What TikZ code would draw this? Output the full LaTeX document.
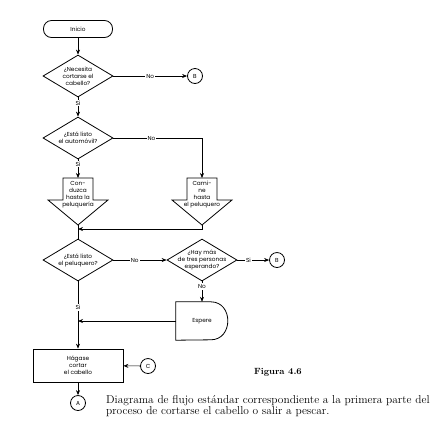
\documentclass[tikz,border=0pt]{standalone}
\usepackage{fontspec}
\newfontfamily\chartfont{Poppins}
\usetikzlibrary{arrows.meta,positioning,shapes.geometric}

\begin{document}
\begin{tikzpicture}[x=1pt, y=-1pt,
    lbl/.style={font=\chartfont\fontsize{5.8}{7}\selectfont, align=center, inner sep=1pt},
    term/.style={lbl, draw, line width=0.8pt, rounded corners=8pt,
                 minimum width=69pt, minimum height=17pt},
    dec/.style={draw, line width=0.8pt, diamond, aspect=1.65,
                minimum width=70pt, minimum height=42pt, inner sep=0pt},
    proc/.style={lbl, draw, line width=0.8pt, minimum width=90pt, minimum height=33pt},
    conn/.style={lbl, draw, line width=0.8pt, circle, minimum size=15pt, inner sep=0pt},
    tag/.style={lbl, fill=white},
    arr/.style={-{Stealth[length=5pt,width=4pt]}, line width=0.6pt},
    link/.style={line width=0.6pt},
    blockdown/.pic={
      \draw[line width=0.8pt] (-15,0) -- (-15,22) -- (-30,22) -- (0,47)
        -- (30,22) -- (15,22) -- (15,0) -- cycle;
      \node[lbl, inner sep=0pt] (-text) at (0,16.5) {#1};
      \coordinate (-top) at (0,0);
      \coordinate (-tip) at (0,47);
    }
  ]
  \useasboundingbox (0,0) rectangle (443,424);

  % main column
  \node[term] (start) at (78,29) {Inicio};
  \node[dec, label={[lbl]center:{¿Necesita\\cortarse el\\cabello?}}] (haircut) at (78,76) {};
  \node[conn] (b1) at (195,76) {B};
  \node[dec, label={[lbl]center:{¿Está listo\\el automóvil?}}] (car) at (78,138) {};
  \pic (drive) at (78,178) {blockdown={Con-\\duzca\\hasta la\\peluquería}};
  \pic (walk) at (202,178) {blockdown={Cami-\\ne\\hasta\\el peluquero}};
  \coordinate (turn) at (202,229);
  \node[dec, label={[lbl]center:{¿Está listo\\el peluquero?}}] (barber) at (78,260) {};
  \node[dec, label={[lbl]center:{¿Hay más\\de tres personas\\esperando?}}] (queue) at (202,260) {};
  \node[conn] (b2) at (277,260) {B};
  \node[lbl, minimum width=52pt, minimum height=38pt] (wait) at (202,321) {Espere};
  \draw[line width=0.8pt] (wait.north west) -- ++(35,0)
    .. controls +(22.7,0) and +(22.7,0) .. ++(0,38) -- (wait.south west) -- cycle;
  \node[proc] (cut) at (78,365.5) {Hágase\\cortar\\el cabello};
  \node[conn] (c) at (148,366) {C};
  \node[conn] (a) at (78,403) {A};

  % caption
  \node[font=\bfseries\fontsize{9}{10}\selectfont] (fig) at (278,372) {Figura 4.6};
  \node[font=\fontsize{11.4}{11.5}\selectfont, align=left, anchor=north west, inner sep=0pt]
    (cap) at (106,395) {Diagrama de flujo estándar correspondiente a la primera parte del\\
    proceso de cortarse el cabello o salir a pescar.};

  % connectors
  \draw[arr] (start) -- (haircut);
  \draw[arr] (haircut) -- node[tag]{No} (b1);
  \draw[arr] (haircut) -- node[tag, pos=0.3]{Si} (car);
  \draw[arr] (car.east) -- node[tag, pos=0.43]{No} (car.east -| walk-top) -- (walk-top);
  \draw[arr] (car) -- node[tag, pos=0.25]{Si} (drive-top);
  \draw[link] (drive-tip) -- (barber);
  \draw[arr] (walk-tip) -- (turn) -- (turn -| drive-tip);
  \draw[arr] (barber) -- node[tag, pos=0.4]{No} (queue);
  \draw[arr] (queue) -- node[tag, pos=0.35]{Si} (b2);
  \draw[arr] (queue) -- node[tag, pos=0.25]{No} (wait);
  \draw[arr] (barber) -- node[tag, pos=0.39]{Si} (cut);
  \draw[arr] (wait.west) -- (wait.west -| cut.north);
  \draw[arr] (c) -- (cut);
  \draw[arr] (cut) -- (a);
\end{tikzpicture}
\end{document}
